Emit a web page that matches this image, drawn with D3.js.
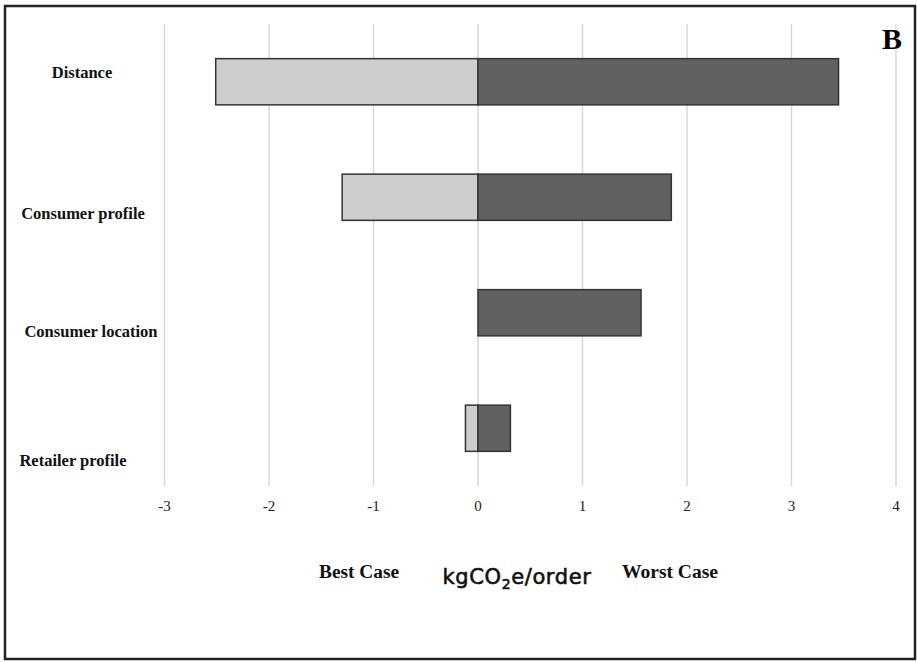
<!DOCTYPE html>
<html>
<head>
<meta charset="utf-8">
<script src="https://cdn.jsdelivr.net/npm/d3@7"></script>
<style>
  body { margin: 0; background: #fff; }
  svg { display: block; }
</style>
</head>
<body>
<svg width="917" height="662"></svg>
<script>
// tornado values, kgCO2e/order
var factors = ["Distance", "Consumer profile", "Consumer location", "Retailer profile"];
var bestCase = [-2.51, -1.30, 0, -0.12];
var worstCase = [3.45, 1.85, 1.56, 0.31];
var tickValues = [-3, -2, -1, 0, 1, 2, 3, 4];
// label nudges vs. band centre (labels sit a bit off the bars in the original)
var labelShift = [-8, 18, 20, 34];
var labelX = [82, 83, 91, 73];

var serif = "'Liberation Serif', 'Times New Roman', serif";
var svg = d3.select("svg");

svg.append("rect")
  .attr("x", 5).attr("y", 6)
  .attr("width", 910).attr("height", 653)
  .attr("fill", "none")
  .attr("stroke", "#222")
  .attr("stroke-width", 2.5);

var xs = d3.scaleLinear().domain([-3, 4]).range([164.5, 896]);
var ys = d3.scaleBand().domain(factors).range([24, 486])
  .paddingInner(0.6).paddingOuter(0.3);

// gridlines
svg.append("g")
  .selectAll("line")
  .data(tickValues)
  .enter()
  .append("line")
  .attr("x1", function(d) { return xs(d); })
  .attr("x2", function(d) { return xs(d); })
  .attr("y1", 24)
  .attr("y2", 486)
  .attr("stroke", "#d9d9d9")
  .attr("stroke-width", 1.5);

// tick labels
svg.append("g")
  .selectAll("text")
  .data(tickValues)
  .enter()
  .append("text")
  .attr("x", function(d) { return xs(d); })
  .attr("y", 511)
  .attr("text-anchor", "middle")
  .style("font-family", serif)
  .style("font-size", "15px")
  .attr("fill", "#222")
  .text(function(d) { return d; });

var rows = factors.map(function(f, i) {
  return {name: f, best: bestCase[i], worst: worstCase[i], i: i};
});

// best case bars (light)
svg.append("g")
  .selectAll("rect")
  .data(rows.filter(function(d) { return d.best < 0; }))
  .enter()
  .append("rect")
  .attr("x", function(d) { return xs(d.best); })
  .attr("y", function(d) { return ys(d.name); })
  .attr("width", function(d) { return xs(0) - xs(d.best); })
  .attr("height", ys.bandwidth())
  .attr("fill", "#cdcdcd")
  .attr("stroke", "#333")
  .attr("stroke-width", 1.5);

// worst case bars (dark)
svg.append("g")
  .selectAll("rect")
  .data(rows)
  .enter()
  .append("rect")
  .attr("x", xs(0))
  .attr("y", function(d) { return ys(d.name); })
  .attr("width", function(d) { return xs(d.worst) - xs(0); })
  .attr("height", ys.bandwidth())
  .attr("fill", "#616161")
  .attr("stroke", "#333")
  .attr("stroke-width", 1.5);

// category labels
svg.append("g")
  .selectAll("text")
  .data(rows)
  .enter()
  .append("text")
  .attr("x", function(d) { return labelX[d.i]; })
  .attr("y", function(d) { return ys(d.name) + ys.bandwidth() / 2 + labelShift[d.i]; })
  .attr("text-anchor", "middle")
  .attr("dominant-baseline", "middle")
  .style("font-family", serif)
  .style("font-weight", "bold")
  .style("font-size", "16.5px")
  .attr("fill", "#111")
  .text(function(d) { return d.name; });

// axis caption
svg.append("text")
  .attr("x", 359).attr("y", 578)
  .attr("text-anchor", "middle")
  .style("font-family", serif).style("font-weight", "bold").style("font-size", "18px")
  .attr("fill", "#111")
  .attr("textLength", 80).attr("lengthAdjust", "spacingAndGlyphs")
  .text("Best Case");

svg.append("text")
  .attr("x", 670).attr("y", 578)
  .attr("text-anchor", "middle")
  .style("font-family", serif).style("font-weight", "bold").style("font-size", "18px")
  .attr("fill", "#111")
  .attr("textLength", 96).attr("lengthAdjust", "spacingAndGlyphs")
  .text("Worst Case");

var unit = svg.append("text")
  .attr("x", 517).attr("y", 584)
  .attr("text-anchor", "middle")
  .style("font-family", "'DejaVu Sans', 'Open Sans', sans-serif")
  .style("font-size", "21px")
  .style("letter-spacing", "0.6px")
  .attr("fill", "#111")
  .attr("stroke", "#111")
  .attr("stroke-width", 0.6);
unit.append("tspan").text("kgCO");
unit.append("tspan").attr("dy", 5).style("font-size", "14px").text("2");
unit.append("tspan").attr("dy", -5).text("e/order");

svg.append("text")
  .attr("x", 892).attr("y", 49)
  .attr("text-anchor", "middle")
  .style("font-family", serif).style("font-weight", "bold").style("font-size", "30px")
  .attr("fill", "#000")
  .text("B");
</script>
</body>
</html>
